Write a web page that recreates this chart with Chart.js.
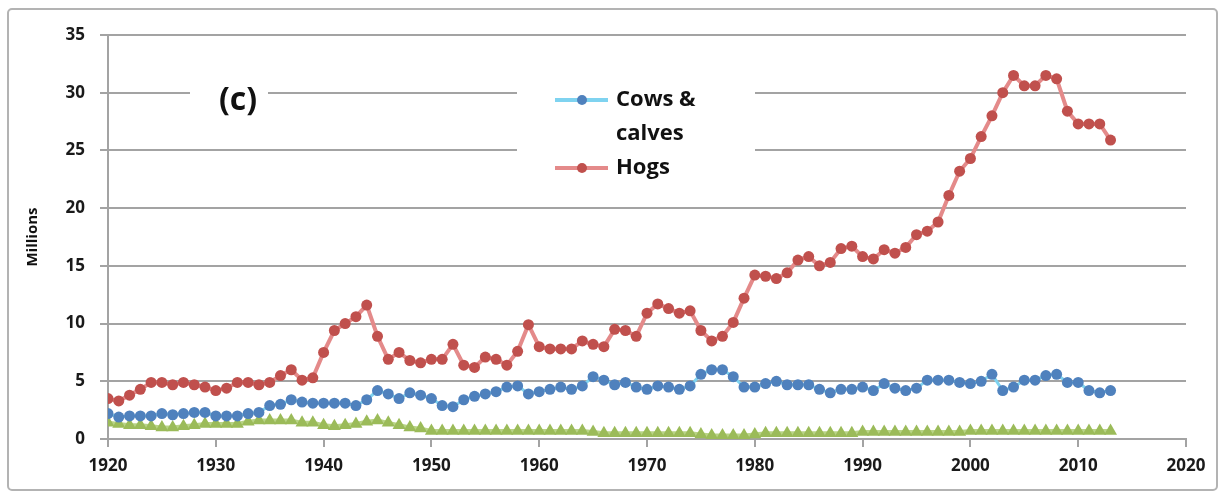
<!DOCTYPE html>
<html>
<head>
<meta charset="utf-8">
<script src="https://cdn.jsdelivr.net/npm/chart.js@4.4.1/dist/chart.umd.min.js"></script>
<style>
  html, body { margin: 0; padding: 0; background: #fff; }
  #wrap { width: 1225px; height: 494px; position: relative; }
</style>
</head>
<body>
<div id="wrap"><canvas id="livestockChart"></canvas></div>
<script>
// Livestock numbers, millions

const years = [
  1920, 1921, 1922, 1923, 1924, 1925, 1926, 1927, 1928, 1929,
  1930, 1931, 1932, 1933, 1934, 1935, 1936, 1937, 1938, 1939,
  1940, 1941, 1942, 1943, 1944, 1945, 1946, 1947, 1948, 1949,
  1950, 1951, 1952, 1953, 1954, 1955, 1956, 1957, 1958, 1959,
  1960, 1961, 1962, 1963, 1964, 1965, 1966, 1967, 1968, 1969,
  1970, 1971, 1972, 1973, 1974, 1975, 1976, 1977, 1978, 1979,
  1980, 1981, 1982, 1983, 1984, 1985, 1986, 1987, 1988, 1989,
  1990, 1991, 1992, 1993, 1994, 1995, 1996, 1997, 1998, 1999,
  2000, 2001, 2002, 2003, 2004, 2005, 2006, 2007, 2008, 2009,
  2010, 2011, 2012, 2013
];

const cowsCalves = [
  2.2, 1.9, 2.0, 2.0, 2.0, 2.2, 2.1, 2.2, 2.3, 2.3,
  2.0, 2.0, 2.0, 2.2, 2.3, 2.9, 3.0, 3.4, 3.2, 3.1,
  3.1, 3.1, 3.1, 2.9, 3.4, 4.2, 3.9, 3.5, 4.0, 3.8,
  3.5, 2.9, 2.8, 3.4, 3.7, 3.9, 4.1, 4.5, 4.6, 3.9,
  4.1, 4.3, 4.5, 4.3, 4.6, 5.4, 5.1, 4.7, 4.9, 4.5,
  4.3, 4.6, 4.5, 4.3, 4.6, 5.6, 6.0, 6.0, 5.4, 4.5,
  4.5, 4.8, 5.0, 4.7, 4.7, 4.7, 4.3, 4.0, 4.3, 4.3,
  4.5, 4.2, 4.8, 4.4, 4.2, 4.4, 5.1, 5.1, 5.1, 4.9,
  4.8, 5.0, 5.6, 4.2, 4.5, 5.1, 5.1, 5.5, 5.6, 4.9,
  4.9, 4.2, 4.0, 4.2
];

const hogs = [
  3.5, 3.3, 3.8, 4.3, 4.9, 4.9, 4.7, 4.9, 4.7, 4.5,
  4.2, 4.4, 4.9, 4.9, 4.7, 4.9, 5.5, 6.0, 5.1, 5.3,
  7.5, 9.4, 10.0, 10.6, 11.6, 8.9, 6.9, 7.5, 6.8, 6.6,
  6.9, 6.9, 8.2, 6.4, 6.2, 7.1, 6.9, 6.4, 7.6, 9.9,
  8.0, 7.8, 7.8, 7.8, 8.5, 8.2, 8.0, 9.5, 9.4, 8.9,
  10.9, 11.7, 11.3, 10.9, 11.1, 9.4, 8.5, 8.9, 10.1, 12.2,
  14.2, 14.1, 13.9, 14.4, 15.5, 15.8, 15.0, 15.3, 16.5, 16.7,
  15.8, 15.6, 16.4, 16.1, 16.6, 17.7, 18.0, 18.8, 21.1, 23.2,
  24.3, 26.2, 28.0, 30.0, 31.5, 30.6, 30.6, 31.5, 31.2, 28.4,
  27.3, 27.3, 27.3, 25.9
];

const sheep = [
  1.4, 1.3, 1.2, 1.2, 1.1, 1.0, 1.0, 1.1, 1.2, 1.3,
  1.3, 1.3, 1.3, 1.5, 1.6, 1.6, 1.6, 1.6, 1.4, 1.4,
  1.2, 1.1, 1.2, 1.3, 1.5, 1.6, 1.4, 1.2, 1.0, 0.9,
  0.7, 0.7, 0.7, 0.7, 0.7, 0.7, 0.7, 0.7, 0.7, 0.7,
  0.7, 0.7, 0.7, 0.7, 0.7, 0.6, 0.5, 0.5, 0.5, 0.5,
  0.5, 0.5, 0.5, 0.5, 0.5, 0.4, 0.3, 0.3, 0.3, 0.3,
  0.4, 0.5, 0.5, 0.5, 0.5, 0.5, 0.5, 0.5, 0.5, 0.5,
  0.6, 0.6, 0.6, 0.6, 0.6, 0.6, 0.6, 0.6, 0.6, 0.6,
  0.7, 0.7, 0.7, 0.7, 0.7, 0.7, 0.7, 0.7, 0.7, 0.7,
  0.7, 0.7, 0.7, 0.7
];

const xTicks = [1920, 1930, 1940, 1950, 1960, 1970, 1980, 1990, 2000, 2010, 2020];
const yTicks = [0, 5, 10, 15, 20, 25, 30, 35];
const legendLines = [['Cows &', 'calves'], ['Hogs']];
const panelLabel = '(c)';

const FONT = '"Open Sans", Lato, sans-serif';
const GRID = '#a3a3a3';

function toPoints(values) {
  return values.map((v, i) => ({ x: years[i], y: v }));
}

// frame, white boxes under the label / legend, and the legend itself
const decorPlugin = {
  id: 'decor',
  beforeDraw(chart) {
    const ctx = chart.ctx;
    ctx.save();
    ctx.fillStyle = '#fff';
    ctx.fillRect(0, 0, chart.width, chart.height);
    ctx.strokeStyle = '#b3b3b3';
    ctx.lineWidth = 2;
    ctx.beginPath();
    ctx.roundRect(8, 9, 1209, 481, 4);
    ctx.stroke();
    ctx.restore();
  },
  beforeDatasetsDraw(chart) {
    const ctx = chart.ctx;
    ctx.save();
    ctx.fillStyle = '#fff';
    ctx.fillRect(190, 76, 78, 44);
    ctx.fillRect(517, 72, 238, 124);

    ctx.fillStyle = '#111';
    ctx.font = 'bold 32px ' + FONT;
    ctx.textAlign = 'center';
    ctx.textBaseline = 'middle';
    ctx.fillText(panelLabel, 238, 101);

    const rows = [[100, 134], [168]];
    ctx.font = 'bold 22px ' + FONT;
    ctx.textAlign = 'left';
    legendLines.forEach((lines, i) => {
      const ds = chart.data.datasets[i];
      const y = rows[i][0];
      ctx.strokeStyle = ds.borderColor;
      ctx.lineWidth = 4;
      ctx.beginPath();
      ctx.moveTo(555, y);
      ctx.lineTo(608, y);
      ctx.stroke();
      ctx.fillStyle = ds.pointBackgroundColor;
      ctx.beginPath();
      ctx.arc(582, y, 5, 0, Math.PI * 2);
      ctx.fill();
      ctx.fillStyle = '#111';
      lines.forEach((t, j) => ctx.fillText(t, 616, rows[i][j]));
    });
    ctx.restore();
  }
};

const ctx = document.getElementById('livestockChart').getContext('2d');

new Chart(ctx, {
  type: 'line',
  data: {
    datasets: [
      {
        label: 'Cows & calves',
        data: toPoints(cowsCalves),
        borderColor: '#7fd3f0',
        borderWidth: 3,
        pointBackgroundColor: '#4f81bd',
        pointBorderColor: '#4f81bd',
        pointRadius: 5.5,
        pointBorderWidth: 0,
        tension: 0
      },
      {
        label: 'Hogs',
        data: toPoints(hogs),
        borderColor: '#e48a8a',
        borderWidth: 4,
        pointBackgroundColor: '#c0504d',
        pointBorderColor: '#c0504d',
        pointRadius: 5.5,
        pointBorderWidth: 0,
        tension: 0
      },
      {
        label: 'Sheep',
        data: toPoints(sheep),
        borderColor: '#b9d487',
        borderWidth: 4,
        pointStyle: 'triangle',
        pointBackgroundColor: '#9bbb59',
        pointBorderColor: '#9bbb59',
        pointRadius: 7.5,
        pointBorderWidth: 0,
        tension: 0
      }
    ]
  },
  options: {
    responsive: true,
    maintainAspectRatio: false,
    animation: false,
    devicePixelRatio: 1,
    layout: {
      padding: { left: 12, right: 39, top: 35, bottom: 0 }
    },
    plugins: {
      legend: { display: false },
      tooltip: { enabled: false }
    },
    scales: {
      x: {
        type: 'linear',
        min: 1920,
        max: 2020,
        afterFit: s => { s.height = 55; },
        afterBuildTicks: s => { s.ticks = xTicks.map(v => ({ value: v })); },
        grid: {
          drawOnChartArea: false,
          drawTicks: true,
          tickLength: 8,
          color: GRID,
          lineWidth: 2
        },
        border: { display: true, color: GRID, width: 2 },
        ticks: {
          color: '#1a1a1a',
          padding: 9,
          maxRotation: 0,
          font: { family: FONT, size: 17, weight: 'bold' },
          callback: v => String(v)
        }
      },
      y: {
        min: 0,
        max: 35,
        afterFit: s => { s.width = 96; },
        afterBuildTicks: s => { s.ticks = yTicks.map(v => ({ value: v })); },
        grid: {
          drawTicks: true,
          tickLength: 8,
          color: GRID,
          lineWidth: 2
        },
        border: { display: true, color: GRID, width: 2 },
        ticks: {
          color: '#1a1a1a',
          padding: 15,
          font: { family: FONT, size: 17, weight: 'bold' }
        },
        title: {
          display: true,
          text: 'Millions',
          color: '#111',
          padding: { top: 12, bottom: 0 },
          font: { family: FONT, size: 15, weight: 'bold' }
        }
      }
    }
  },
  plugins: [decorPlugin]
});
</script>
</body>
</html>
